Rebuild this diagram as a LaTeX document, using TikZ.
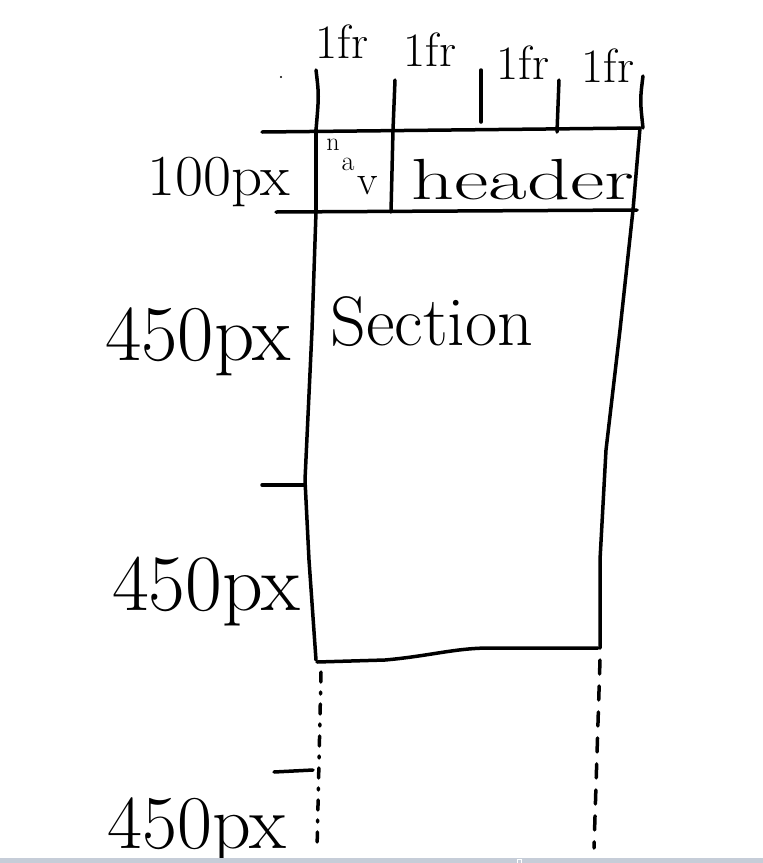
\documentclass[tikz,border=0pt]{standalone}
\usepackage{fontspec}
\usetikzlibrary{positioning}

\definecolor{barGray}{RGB}{198,205,216}
\tikzset{
  pen/.style={black, line width=3.5pt, line cap=round, line join=round},
  pendash/.style={pen, dash pattern=on 14pt off 12pt},
  pendot/.style={pen, dash pattern=on 10pt off 10pt on 2pt off 10pt},
  hand/.style={inner sep=0pt, font=\fontsize{#1}{#1}\selectfont}
}

\begin{document}
\begin{tikzpicture}[x=1pt,y=1pt]
\useasboundingbox (0,-863) rectangle (763,0);
\fill[white] (0,-863) rectangle (763,0);
% column labels
\node[hand=48] (frA) at (342,-42) {1fr};
\node[hand=48] (frB) at (430,-50) {1fr};
\node[hand=48] (frC) at (523,-63) {1fr};
\node[hand=48] (frD) at (608,-66) {1fr};
\fill[black] (281,-77) circle (1.2);
% column ticks
\draw[pen] (316,-70) .. controls (319,-95) .. (316,-130);
\draw[pen] (395,-80) -- (393,-130);
\draw[pen] (481,-70) -- (481,-122);
\draw[pen] (559,-80) -- (557,-132);
\draw[pen] (643,-76) .. controls (640,-100) .. (643,-128);
% header row
\draw[pen] (262,-132) -- (640,-128);
\draw[pen] (276,-212) -- (637,-210);
\draw[pen] (316,-130) -- (316,-212);
\draw[pen] (393,-130) -- (391,-212);
\draw[pen] (640,-128) -- (633,-210);
\node[hand=26] (navN) at (333,-145) {n};
\node[hand=28] (navA) at (348,-164) {a};
\node[hand=42] (navV) at (368,-186) {v};
\node[hand=58, xscale=1.45] (head) at (523,-180) {header};
\node[hand=58, xscale=1.05] (rowA) at (219,-182) {100px};
% section box
\draw[pen] (316,-212) -- (312,-330) -- (305,-480) -- (309,-560) -- (316,-660);
\draw[pen] (633,-210) -- (620,-330) -- (606,-450) -- (600,-560) -- (600,-648);
\draw[pen] (317,-662) -- (385,-660) .. controls (430,-656) and (455,-648) .. (490,-648) -- (598,-648);
\draw[pen] (262,-485) -- (305,-485);
\node[hand=70] (sect) at (432,-322) {Section};
\node[hand=79] (rowB) at (198,-342) {450px};
\node[hand=80] (rowC) at (206,-592) {450px};
% implicit track
\draw[pendot] (321,-672) -- (317,-850);
\draw[pendash] (600,-660) -- (594,-848);
\draw[pen] (274,-772) -- (313,-770);
\node[hand=76] (rowD) at (197,-830) {450px};
\fill[barGray] (0,-858) rectangle (763,-863);
\draw[white, line width=0.8pt] (517,-859) rectangle (521,-863);
\end{tikzpicture}
\end{document}
